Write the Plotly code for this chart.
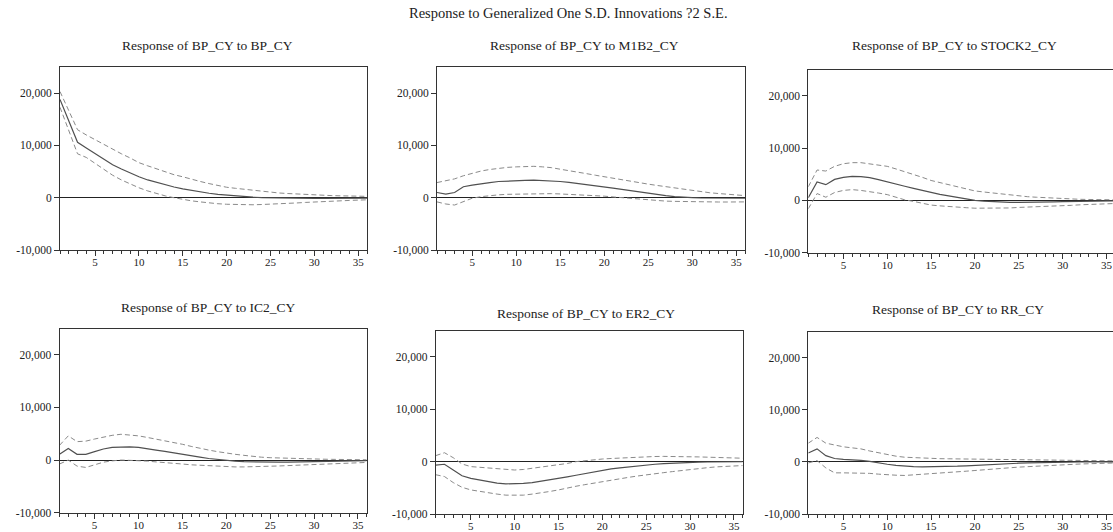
import plotly.graph_objects as go

periods = list(range(1, 37))

main_title = "Response to Generalized One S.D. Innovations ?2 S.E."
panel_titles = [
    "Response of BP_CY to BP_CY",
    "Response of BP_CY to M1B2_CY",
    "Response of BP_CY to STOCK2_CY",
    "Response of BP_CY to IC2_CY",
    "Response of BP_CY to ER2_CY",
    "Response of BP_CY to RR_CY",
]

y_tick_vals = [-10000, 0, 10000, 20000]
y_tick_text = ["-10,000", "0", "10,000", "20,000"]
x_tick_vals = [5, 10, 15, 20, 25, 30, 35]

# Response of BP_CY to BP_CY
bp_resp = [18800, 14600, 10600, 9500, 8400, 7300, 6300, 5500, 4700, 4000, 3400, 2900, 2450, 2050, 1700, 1400, 1100, 850, 650, 480, 330, 200, 100, 30, -20, -60, -90, -110, -120, -130, -130, -120, -110, -100, -90, -80]
bp_up = [20300, 16600, 13000, 12000, 11100, 10100, 9200, 8400, 7600, 6700, 6100, 5500, 4900, 4400, 4000, 3500, 3100, 2700, 2300, 2000, 1800, 1600, 1400, 1200, 1050, 900, 800, 700, 600, 520, 460, 400, 360, 320, 290, 260]
bp_lo = [17300, 12800, 8400, 7700, 6600, 5400, 4300, 3400, 2600, 1900, 1300, 800, 350, 0, -350, -600, -800, -1000, -1150, -1250, -1300, -1350, -1350, -1300, -1250, -1200, -1100, -1000, -900, -800, -700, -650, -580, -520, -460, -400]

# Response of BP_CY to M1B2_CY
m1_resp = [1000, 700, 1000, 2100, 2400, 2700, 2900, 3100, 3200, 3300, 3300, 3350, 3300, 3250, 3100, 2950, 2750, 2550, 2300, 2100, 1850, 1600, 1350, 1050, 800, 600, 400, 200, 50, 0, -50, -80, -100, -100, -100, -100]
m1_up = [2900, 3200, 3600, 4200, 4700, 5100, 5400, 5650, 5800, 5900, 5950, 6000, 5900, 5750, 5450, 5200, 4900, 4600, 4300, 4000, 3700, 3400, 3100, 2850, 2600, 2350, 2100, 1850, 1600, 1350, 1150, 950, 800, 650, 500, 400]
m1_lo = [-800, -1200, -1400, -800, -100, 200, 400, 550, 650, 700, 750, 800, 800, 780, 720, 650, 550, 450, 350, 300, 150, 0, -150, -300, -450, -550, -650, -700, -750, -800, -800, -820, -820, -820, -800, -800]

# Response of BP_CY to STOCK2_CY
st_resp = [500, 3500, 3000, 4000, 4400, 4600, 4550, 4350, 3950, 3500, 3100, 2700, 2300, 1900, 1500, 1150, 850, 550, 300, 0, -150, -250, -320, -380, -400, -400, -380, -350, -300, -250, -220, -190, -160, -140, -120, -100]
st_up = [2600, 5800, 5600, 6500, 7000, 7200, 7200, 7000, 6800, 6500, 6000, 5500, 5000, 4400, 3800, 3400, 3000, 2600, 2200, 1800, 1600, 1400, 1200, 1000, 800, 700, 600, 500, 400, 300, 250, 200, 170, 140, 120, 100]
st_lo = [-1600, 1300, 600, 1500, 1900, 2050, 1900, 1700, 1400, 1100, 600, 100, -200, -550, -900, -1050, -1200, -1300, -1400, -1500, -1520, -1550, -1520, -1450, -1350, -1300, -1250, -1150, -1100, -1000, -950, -850, -800, -700, -650, -600]

# Response of BP_CY to IC2_CY
ic_resp = [1100, 2200, 1100, 1100, 1600, 2100, 2400, 2500, 2500, 2400, 2200, 1900, 1650, 1350, 1100, 800, 550, 300, 100, -100, -200, -300, -350, -400, -400, -400, -380, -350, -300, -250, -220, -200, -160, -140, -120, -100]
ic_up = [2800, 4600, 3500, 3600, 4000, 4400, 4700, 4900, 4800, 4600, 4300, 4000, 3700, 3300, 3000, 2600, 2200, 1900, 1600, 1300, 1100, 900, 700, 550, 450, 380, 320, 260, 220, 200, 170, 140, 120, 100, 70, 50]
ic_lo = [-750, 0, -1150, -1400, -900, -400, -150, 0, -50, -100, -200, -350, -450, -600, -750, -900, -1000, -1100, -1200, -1250, -1300, -1300, -1280, -1250, -1200, -1120, -1050, -980, -900, -750, -700, -650, -600, -550, -500, -450]

# Response of BP_CY to ER2_CY
er_resp = [-650, -500, -1600, -2700, -3200, -3500, -3800, -4100, -4250, -4250, -4150, -4000, -3750, -3500, -3200, -2900, -2600, -2300, -1950, -1600, -1400, -1200, -1000, -800, -650, -500, -400, -300, -200, -150, -100, -70, -50, -30, -10, 0]
er_up = [1150, 1700, 750, -450, -950, -1100, -1250, -1400, -1500, -1600, -1500, -1250, -1100, -900, -650, -350, 0, 200, 350, 500, 600, 700, 800, 900, 950, 980, 1000, 1000, 980, 950, 900, 850, 800, 750, 700, 650]
er_lo = [-2500, -2850, -4000, -4900, -5400, -5700, -6000, -6200, -6400, -6450, -6400, -6200, -6000, -5700, -5400, -5000, -4700, -4400, -4100, -3800, -3500, -3250, -3000, -2750, -2500, -2300, -2100, -1900, -1700, -1450, -1300, -1150, -1000, -900, -800, -750]

# Response of BP_CY to RR_CY
rr_resp = [1700, 2500, 1200, 650, 500, 450, 300, 100, -200, -450, -650, -800, -900, -950, -950, -920, -880, -820, -750, -650, -580, -500, -430, -350, -250, -200, -150, -100, -70, -50, -30, -20, -10, 0, 0, 0]
rr_up = [3600, 4700, 3600, 3200, 2900, 2700, 2500, 2100, 1750, 1400, 1100, 900, 800, 700, 650, 620, 600, 580, 560, 550, 540, 530, 520, 510, 500, 480, 460, 440, 420, 400, 370, 340, 300, 260, 230, 200]
rr_lo = [-200, 250, -1150, -2100, -2100, -2100, -2100, -2200, -2350, -2500, -2550, -2600, -2500, -2400, -2300, -2200, -2050, -1900, -1780, -1650, -1550, -1400, -1250, -1120, -1000, -900, -800, -700, -600, -500, -450, -400, -350, -300, -250, -200]

series = [
    (bp_resp, bp_up, bp_lo),
    (m1_resp, m1_up, m1_lo),
    (st_resp, st_up, st_lo),
    (ic_resp, ic_up, ic_lo),
    (er_resp, er_up, er_lo),
    (rr_resp, rr_up, rr_lo),
]

W, H = 1113, 532
# panel boxes in pixels: left, right, top, bottom
boxes = [
    (60, 367, 67, 250),
    (437, 745, 67, 250),
    (808.3, 1113, 69.5, 252.7),
    (59.5, 366.7, 328.5, 512.7),
    (435.7, 742.7, 330.7, 514),
    (808.3, 1113, 331.7, 514),
]
px_per_period = 8.77
title_pos = [(207.5, 45), (584, 45), (954, 46), (208, 307), (586, 313), (957.7, 309)]

FONT = "Liberation Serif, Times New Roman, serif"
AX = "#333333"
TXT = "#222222"
DASH = "5px,3px"

fig = go.Figure()
layout = dict(
    template="none",
    width=W, height=H,
    margin=dict(l=0, r=0, t=0, b=0, pad=0),
    paper_bgcolor="white", plot_bgcolor="white",
    showlegend=False,
    font=dict(family=FONT, size=11, color=TXT),
)
annotations = [dict(text=main_title, x=568 / W, y=1 - 13 / H, xref="paper", yref="paper",
                    showarrow=False, font=dict(family=FONT, size=14.5, color=TXT),
                    xanchor="center", yanchor="middle")]

for i, ((resp, up, lo), (l, r, t, b)) in enumerate(zip(series, boxes)):
    n = "" if i == 0 else str(i + 1)
    xa, ya = "x" + n, "y" + n
    clipped = r >= W
    xmax = 1 + (r - l) / px_per_period if clipped else 36
    fig.add_trace(go.Scatter(x=periods, y=up, mode="lines", xaxis=xa, yaxis=ya,
                             line=dict(color="#8a8a8a", width=1, dash=DASH)))
    fig.add_trace(go.Scatter(x=periods, y=lo, mode="lines", xaxis=xa, yaxis=ya,
                             line=dict(color="#8a8a8a", width=1, dash=DASH)))
    fig.add_trace(go.Scatter(x=periods, y=resp, mode="lines", xaxis=xa, yaxis=ya,
                             line=dict(color="#505050", width=1.2)))
    layout["xaxis" + n] = dict(
        domain=[l / W, min(r / W, 1.0)], anchor=ya, range=[1, xmax], automargin=False,
        showgrid=False, zeroline=False, showline=True, linecolor=AX, linewidth=1,
        mirror=True, ticks="outside", ticklen=5, tickwidth=1, tickcolor=AX,
        tickvals=x_tick_vals, ticktext=[str(v) for v in x_tick_vals],
        minor=dict(dtick=1, tick0=0, ticks="outside", ticklen=3, tickcolor=AX, showgrid=False),
        tickfont=dict(family=FONT, size=11, color=TXT), ticklabelstandoff=-3,
    )
    layout["yaxis" + n] = dict(
        domain=[1 - b / H, 1 - t / H], anchor=xa, range=[-10000, 25000], automargin=False,
        showgrid=False, zeroline=True, zerolinecolor="#222222", zerolinewidth=1,
        showline=True, linecolor=AX, linewidth=1, mirror=not clipped,
        ticks="outside", ticklen=5, tickwidth=1, tickcolor=AX,
        tickvals=y_tick_vals, ticktext=y_tick_text,
        tickfont=dict(family=FONT, size=11.5, color=TXT),
    )
    tx, ty = title_pos[i]
    annotations.append(dict(text=panel_titles[i], x=tx / W, y=1 - ty / H, xref="paper", yref="paper",
                            showarrow=False, font=dict(family=FONT, size=13.5, color=TXT),
                            xanchor="center", yanchor="middle"))

layout["annotations"] = annotations
fig.update_layout(**layout)
fig.write_html(
    "out.html",
    config={"displayModeBar": False},
    post_script="document.body.style.margin='0';document.body.style.overflow='hidden';",
)
